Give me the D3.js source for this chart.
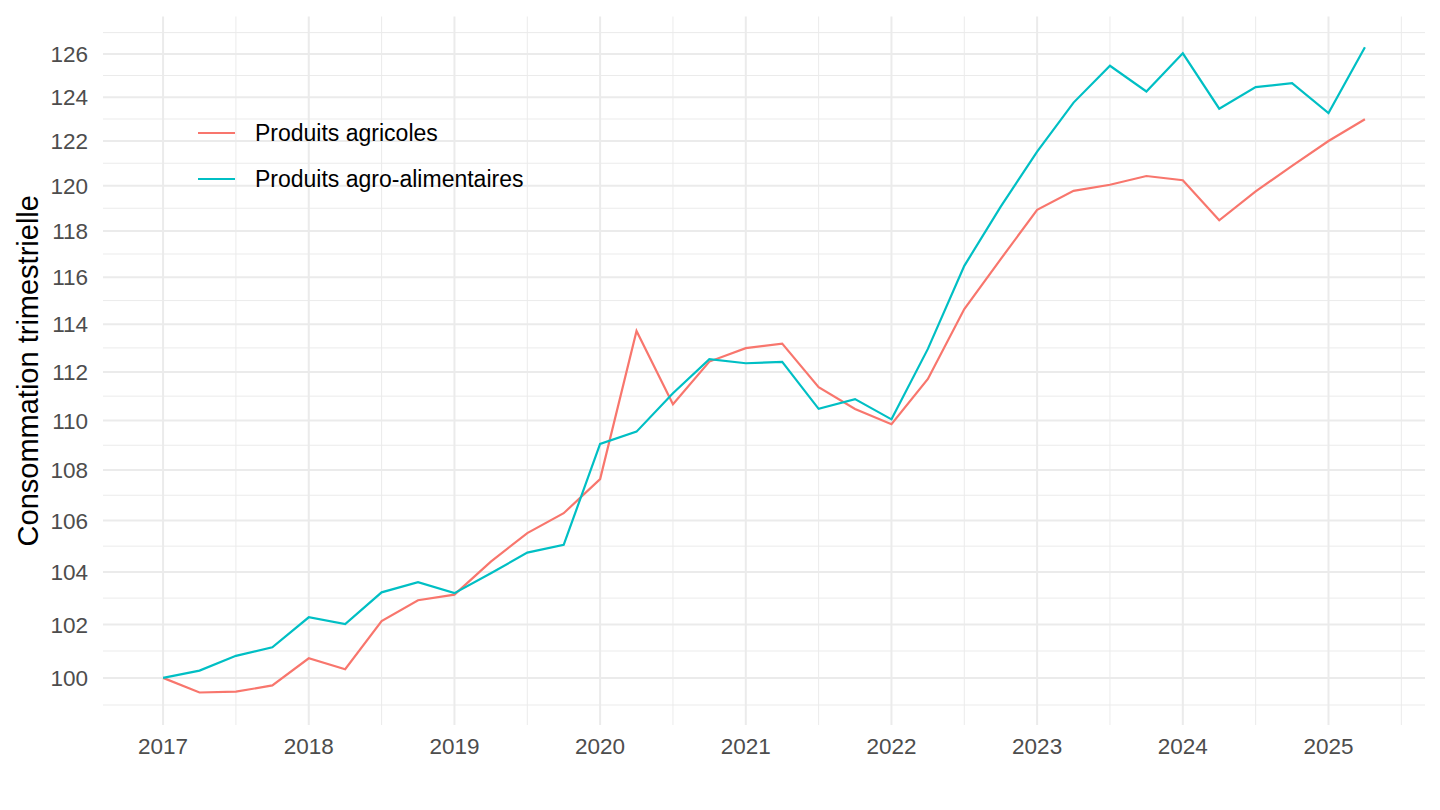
<html>
<head>
<style>
  body { margin: 0; background: #fff; }
  svg { font-family: "Liberation Sans", Arial, sans-serif; }
  .grid-major { stroke: #ebebeb; stroke-width: 2px; }
  .grid-minor { stroke: #ebebeb; stroke-width: 1px; }
  .tick-label { fill: #4d4d4d; font-size: 22.5px; }
</style>
<script src="https://cdnjs.cloudflare.com/ajax/libs/d3/7.8.5/d3.min.js"></script>
</head>
<body>
<svg width="1440" height="810"></svg>
<script>
// quarterly index, 2017Q1 .. 2025Q2
var quarters = d3.range(34).map(function(i) { return 2017 + i / 4; });

var agricoles = [100, 99.46, 99.49, 99.72, 100.73, 100.32, 102.13, 102.92, 103.13, 104.40,
  105.51, 106.29, 107.64, 113.71, 110.67, 112.43, 112.99, 113.18, 111.37, 110.47,
  109.85, 111.71, 114.64, 116.78, 118.93, 119.77, 120.04, 120.43, 120.24, 118.47,
  119.75, 120.88, 122.0, 122.99];

var agroAlim = [100, 100.27, 100.82, 101.14, 102.27, 102.01, 103.22, 103.61, 103.19, 103.95,
  104.75, 105.05, 109.05, 109.55, 111.12, 112.53, 112.36, 112.42, 110.48, 110.88,
  110.05, 112.96, 116.49, 119.07, 121.52, 123.75, 125.45, 124.26, 126.03, 123.47,
  124.46, 124.64, 123.27, 126.31];

var seriesNames = ["Produits agricoles", "Produits agro-alimentaires"];
var seriesColors = ["#F8766D", "#00BFC4"];
var yBreaks = d3.range(100, 127, 2);
var yMinor = d3.range(99, 128, 2);
var xBreaks = d3.range(2017, 2026);
var xMinor = d3.range(2017.5, 2026, 1);

var svg = d3.select("svg"),
    pLeft = 103, pRight = 1425, pTop = 16.5, pBottom = 725;

var x = d3.scaleLinear().domain([2017 - 0.4125, 2025.25 + 0.4125]).range([pLeft, pRight]);
var y = d3.scaleLog().domain([98.27, 127.76]).range([pBottom, pTop]);

var grid = svg.append("g");
grid.selectAll(".ym").data(yMinor).enter().append("line").attr("class", "grid-minor")
  .attr("x1", pLeft).attr("x2", pRight).attr("y1", function(d) { return y(d); }).attr("y2", function(d) { return y(d); });
grid.selectAll(".xm").data(xMinor).enter().append("line").attr("class", "grid-minor")
  .attr("y1", pTop).attr("y2", pBottom).attr("x1", function(d) { return x(d); }).attr("x2", function(d) { return x(d); });
grid.selectAll(".yM").data(yBreaks).enter().append("line").attr("class", "grid-major")
  .attr("x1", pLeft).attr("x2", pRight).attr("y1", function(d) { return y(d); }).attr("y2", function(d) { return y(d); });
grid.selectAll(".xM").data(xBreaks).enter().append("line").attr("class", "grid-major")
  .attr("y1", pTop).attr("y2", pBottom).attr("x1", function(d) { return x(d); }).attr("x2", function(d) { return x(d); });

// tick labels
svg.selectAll(".ylab").data(yBreaks).enter().append("text").attr("class", "tick-label")
  .attr("x", 88).attr("y", function(d) { return y(d); }).attr("dy", "0.36em")
  .attr("text-anchor", "end").text(function(d) { return d; });
svg.selectAll(".xlab").data(xBreaks).enter().append("text").attr("class", "tick-label")
  .attr("x", function(d) { return x(d); }).attr("y", 754)
  .attr("text-anchor", "middle").text(function(d) { return d; });

svg.append("text").attr("transform", "translate(38," + (pTop + pBottom) / 2 + ") rotate(-90)")
  .attr("text-anchor", "middle").style("font-size", "29px").attr("fill", "#000")
  .text("Consommation trimestrielle");

var line = d3.line().x(function(d) { return x(d[0]); }).y(function(d) { return y(d[1]); });

[agricoles, agroAlim].forEach(function(s, i) {
  svg.append("path").datum(d3.zip(quarters, s)).attr("d", line)
    .attr("fill", "none").attr("stroke", seriesColors[i]).attr("stroke-width", 2.2);
});

// legend
var legend = svg.append("g").attr("transform", "translate(198,133)");
seriesNames.forEach(function(n, i) {
  var g = legend.append("g").attr("transform", "translate(0," + i * 46 + ")");
  g.append("line").attr("x1", 0).attr("x2", 37).attr("stroke", seriesColors[i]).attr("stroke-width", 2.2);
  g.append("text").attr("x", 57).attr("dy", "0.36em").style("font-size", "23px").attr("fill", "#000").text(n);
});
</script>
</body>
</html>
